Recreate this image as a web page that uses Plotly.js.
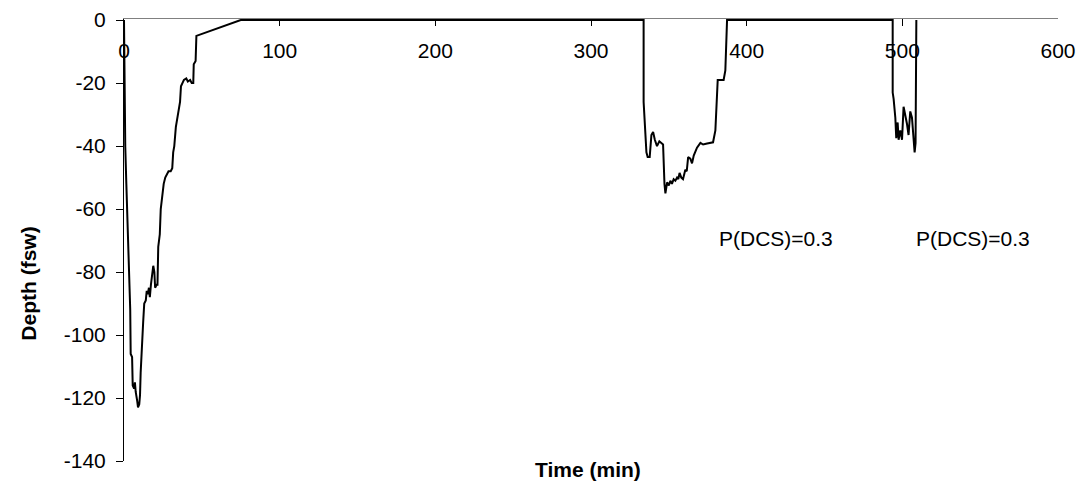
<!DOCTYPE html>
<html>
<head>
<meta charset="utf-8">
<script src="https://cdn.plot.ly/plotly-3.0.1.min.js"></script>
<style>html,body{margin:0;padding:0;background:#fff}#chart{width:1090px;height:485px}</style>
</head>
<body>
<div id="chart"></div>
<script>
// Time (min) and depth (fsw) of the dive profile
const timeMin = [
  0, 0.3, 0.8, 1.5, 2.0, 2.8, 3.5, 4.0, 4.3, 5.2, 5.6, 6.5, 7.0, 7.5, 8.5, 9.0, 9.8, 10.3, 10.7, 11.2, 11.8,
  12.3, 13.0, 14.0, 14.6, 15.3, 16.0, 16.6, 17.3, 18.0, 18.8, 19.5, 20.0, 21.0, 21.5, 22.0, 23.0, 23.6,
  24.5, 25.5, 26.5, 27.5, 28.6, 30.0, 31.0, 31.6, 32.3, 33.3, 34.2, 35.0, 36.0, 36.6, 37.5, 38.5, 40.0,
  41.0, 42.5, 43.5, 44.5, 44.8, 46.0, 46.5, 75.0,
  333.8, 333.8, 334.5, 335.6, 336.4, 337.7, 338.8, 339.9, 341.0, 342.4, 343.9, 346.3, 347.2, 347.8,
  348.9, 350.0, 351.0, 352.0, 353.1, 354.2, 355.3, 356.1, 356.9, 358.0, 359.1, 360.6, 361.5, 362.4,
  363.8, 364.9, 366.0, 367.0, 368.1, 370.3, 372.0, 374.6, 378.4, 379.9, 380.5, 381.4, 385.2, 386.3, 387.4,
  493.8, 493.8, 494.4, 495.5, 496.1, 497.0, 497.6, 498.7, 499.8, 500.8, 501.9, 503.0, 504.0, 505.1,
  506.2, 507.3, 507.9, 508.5, 508.8, 509.0
];
const depthFsw = [
  0, -20, -40, -52, -60, -70, -82, -92, -106, -107, -116, -117, -115, -118, -121, -123, -122, -119, -112, -106, -100,
  -96, -90, -89, -86, -87, -85, -88, -84, -80, -78, -80, -85, -84, -84, -72, -68, -60,
  -56, -52, -50, -49, -48, -48, -47, -42, -40, -34, -31, -29, -26, -21, -20, -19, -18.5,
  -19.5, -19, -20, -20, -14, -13, -5, 0,
  0, -26, -33, -42, -43.5, -43.5, -36.5, -35.5, -38, -40, -38.5, -39.5, -52, -55,
  -51.5, -52.5, -51, -52, -50.5, -51, -50, -50.5, -48.5, -50, -50.5, -47.5, -48, -43.5,
  -44, -45.5, -43, -42, -40.5, -39, -39.5, -39.2, -38.8, -35, -27.5, -19, -19, -16, 0,
  0, -23, -25, -31, -37.5, -32.5, -38, -35, -38, -27.5, -30, -33, -36.5, -29,
  -31, -38, -42, -39, -23, 0
];
const xTicks = [0, 100, 200, 300, 400, 500, 600];
const yTicks = [0, -20, -40, -60, -80, -100, -120, -140];
const noteText = ["P(DCS)=0.3", "P(DCS)=0.3"];
const noteX = [418.7, 545.6];
const noteY = [-69.5, -69.5];

const FONT = "Arial, 'Liberation Sans', sans-serif";

const trace = {
  type: "scatter", mode: "lines", x: timeMin, y: depthFsw,
  line: {color: "#000000", width: 2}, hoverinfo: "skip", showlegend: false
};

const annotations = noteText.map((t, i) => ({
  text: t, x: noteX[i], y: noteY[i], xref: "x", yref: "y",
  xanchor: "center", yanchor: "middle",
  showarrow: false, font: {family: FONT, size: 21, color: "#000"}
}));
annotations.push({
  text: "<b>Time (min)</b>", xref: "paper", yref: "paper", x: 0.497, y: -0.019,
  xanchor: "center", yanchor: "middle", showarrow: false,
  font: {family: FONT, size: 21, color: "#000"}
});
annotations.push({
  text: "<b>Depth (fsw)</b>", xref: "paper", yref: "paper", x: -0.1024, y: 0.402,
  xanchor: "center", yanchor: "middle",
  textangle: -90, showarrow: false, font: {family: FONT, size: 21, color: "#000"}
});

const layout = {
  width: 1090, height: 485,
  margin: {l: 123.5, r: 32.3, t: 19, b: 24.3},
  paper_bgcolor: "#fff", plot_bgcolor: "#fff",
  font: {family: FONT, size: 21, color: "#000"},
  showlegend: false,
  xaxis: {
    range: [0, 600], side: "top", tickvals: xTicks, ticktext: xTicks.map(String),
    ticks: "inside", ticklen: 7, tickcolor: "#000", tickwidth: 1,
    showline: true, linecolor: "#808080", linewidth: 1.5,
    showgrid: false, zeroline: false,
    ticklabelposition: "inside", ticklabeloverflow: "allow", ticklabelstandoff: 19,
    tickfont: {family: FONT, size: 21, color: "#000"},
    layer: "below traces", fixedrange: true
  },
  yaxis: {
    range: [-140, 0.35], tickvals: yTicks, ticktext: yTicks.map(String),
    ticks: "outside", ticklen: 7, tickcolor: "#000", tickwidth: 1,
    showline: true, linecolor: "#000", linewidth: 1,
    showgrid: false, zeroline: false, ticklabelstandoff: 6,
    tickfont: {family: FONT, size: 21, color: "#000"},
    layer: "below traces", fixedrange: true
  },
  annotations: annotations
};

Plotly.newPlot("chart", [trace], layout, {staticPlot: true, displayModeBar: false});
</script>
</body>
</html>
